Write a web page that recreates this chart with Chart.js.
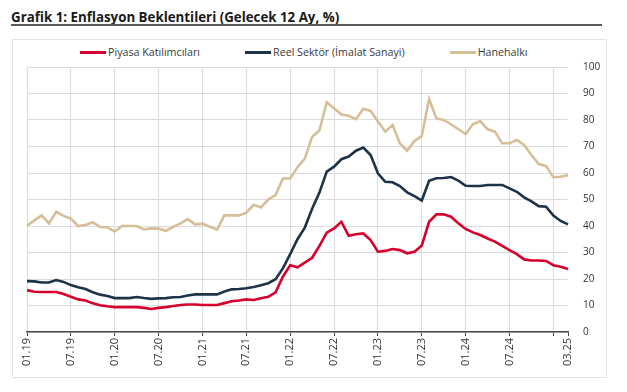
<!DOCTYPE html>
<html>
<head>
<meta charset="utf-8">
<script src="https://cdn.jsdelivr.net/npm/chart.js@4.4.1/dist/chart.umd.min.js"></script>
<style>
  body { margin: 0; background: #fff; width: 627px; height: 392px; position: relative; overflow: hidden; font-family: 'Open Sans', sans-serif; }
  #title { position: absolute; left: 11px; top: 8px; font-size: 14px; line-height: 18px; font-weight: 700; color: #1a1a1a; white-space: nowrap; transform-origin: left top; }
  #rule { position: absolute; left: 11px; top: 24px; width: 591px; height: 2px; background: #595959; }
  #box { position: absolute; left: 12px; top: 39px; width: 593px; height: 337px; border: 1px solid #e2e2e2; }
  #legend { position: absolute; left: 80px; top: 45px; display: flex; gap: 45px; font-size: 10.7px; line-height: 15px; color: #3a3a3a; }
  .item { display: flex; align-items: center; white-space: nowrap; }
  .swatch { width: 26px; height: 3px; margin-right: 2px; }
  #chart { position: absolute; left: 13px; top: 40px; }
</style>
</head>
<body>
<div id="title">Grafik 1: Enflasyon Beklentileri (Gelecek 12 Ay, %)</div>
<div id="rule"></div>
<div id="box"></div>
<div id="legend"></div>
<canvas id="chart" width="593" height="337"></canvas>
<script>
// aylar: 01.19 - 03.25
const firstYear = 2019, lastYear = 2025, lastMonth = 3;
const months = [];
for (let y = firstYear; y <= lastYear; y++) {
    for (let m = 1; m <= 12; m++) {
        if (y === lastYear && m > lastMonth) break;
        months.push(String(m).padStart(2, '0') + '.' + String(y).slice(2));
    }
}

const tickLabels = ['01.19', '07.19', '01.20', '07.20', '01.21', '07.21', '01.22', '07.22', '01.23', '07.23', '01.24', '07.24', '03.25'];
const gridMonths = ['01.19', '07.19', '01.20', '07.20', '01.21', '07.21', '01.22', '07.22', '01.23', '07.23', '01.24', '07.24', '01.25'];

const seriesNames = ['Piyasa Katılımcıları', 'Reel Sektör (İmalat Sanayi)', 'Hanehalkı'];

const piyasa = [
    15.8, 15.2, 15.1, 15.1, 15.1, 14.3, 13.3, 12.3, 11.9, 10.8, 10.1, 9.7,
    9.4, 9.4, 9.4, 9.4, 9.1, 8.7, 9.1, 9.4, 9.8, 10.2, 10.4, 10.4,
    10.2, 10.2, 10.2, 10.9, 11.6, 11.9, 12.3, 12.1, 12.7, 13.3, 15.0, 20.9,
    25.2, 24.4, 26.2, 28.0, 32.5, 37.5, 39.1, 41.6, 36.3, 36.9, 37.2, 34.7,
    30.3, 30.6, 31.3, 30.9, 29.7, 30.3, 32.6, 41.6, 44.4, 44.4, 43.5, 41.0,
    38.9, 37.6, 36.6, 35.3, 34.1, 32.5, 30.9, 29.4, 27.4, 27.0, 27.0, 26.8,
    25.2, 24.6, 23.8
];
const reelSektor = [
    19.2, 19.1, 18.7, 18.7, 19.6, 18.9, 17.7, 16.9, 16.2, 15.0, 14.1, 13.6,
    12.8, 12.8, 12.8, 13.2, 12.8, 12.5, 12.7, 12.8, 13.1, 13.2, 13.8, 14.2,
    14.2, 14.2, 14.2, 15.3, 16.1, 16.2, 16.5, 17.0, 17.6, 18.4, 19.9, 24.0,
    29.4, 35.0, 39.4, 46.5, 52.6, 60.5, 62.4, 65.2, 66.2, 68.4, 69.6, 66.8,
    59.9, 56.7, 56.5, 55.1, 52.7, 51.3, 49.6, 57.1, 58.0, 58.1, 58.5, 57.1,
    55.2, 55.1, 55.1, 55.5, 55.5, 55.5, 54.2, 52.9, 50.8, 49.3, 47.5, 47.3,
    43.9, 41.9, 40.6
];
const hanehalki = [
    40.1, 42.1, 44.0, 41.0, 45.4, 43.8, 42.8, 40.0, 40.4, 41.4, 39.6, 39.5,
    37.9, 40.0, 40.0, 40.0, 38.7, 39.1, 39.0, 38.2, 39.7, 41.0, 42.6, 40.6,
    40.9, 39.7, 38.6, 44.0, 44.0, 44.0, 45.0, 48.0, 47.0, 50.0, 51.7, 57.9,
    57.9, 62.2, 65.4, 73.7, 76.0, 86.7, 84.4, 82.1, 81.6, 80.3, 84.2, 83.4,
    79.4, 75.6, 78.1, 71.2, 68.4, 72.1, 74.0, 87.9, 80.6, 80.0, 78.4, 76.5,
    74.7, 78.4, 79.6, 76.5, 75.6, 71.2, 71.2, 72.5, 70.6, 66.8, 63.4, 62.6,
    58.4, 58.6, 59.2
];

const colors = ['#d5002c', '#1e3248', '#d5be98'];
const allSeries = [piyasa, reelSektor, hanehalki];

// başlığı referans genişliğine sığdır
const title = document.getElementById('title');
title.style.transform = 'scaleX(' + (328 / title.offsetWidth) + ')';

// lejant (html)
const legend = document.getElementById('legend');
seriesNames.forEach((name, i) => {
    const item = document.createElement('div');
    item.className = 'item';
    const sw = document.createElement('span');
    sw.className = 'swatch';
    sw.style.background = colors[i];
    const txt = document.createElement('span');
    txt.textContent = name;
    item.appendChild(sw);
    item.appendChild(txt);
    legend.appendChild(item);
});

const ctx = document.getElementById('chart').getContext('2d');
new Chart(ctx, {
    type: 'line',
    data: {
        labels: months,
        datasets: allSeries.map((d, i) => ({
            label: seriesNames[i],
            data: d,
            borderColor: colors[i],
            backgroundColor: colors[i],
            borderWidth: 2.6,
            pointRadius: 0,
            tension: 0,
            fill: false
        }))
    },
    options: {
        responsive: false,
        animation: false,
        devicePixelRatio: 1,
        layout: { padding: { left: 14, top: 27, right: 0, bottom: 0 } },
        plugins: { legend: { display: false }, tooltip: { enabled: false } },
        scales: {
            x: {
                offset: false,
                grid: {
                    color: c => gridMonths.includes(months[c.index]) ? '#dcdcdc' : 'rgba(0,0,0,0)',
                    tickColor: c => (gridMonths.includes(months[c.index]) || tickLabels.includes(months[c.index])) ? '#444' : 'rgba(0,0,0,0)',
                    lineWidth: 1,
                    tickLength: 4
                },
                border: { display: true, color: '#4a4a4a', width: 1.5 },
                ticks: {
                    autoSkip: false,
                    minRotation: 90,
                    maxRotation: 90,
                    padding: 2,
                    color: '#333',
                    font: { family: 'Open Sans', size: 11 },
                    callback: (v, i) => tickLabels.includes(months[i]) ? months[i] : ''
                },
                afterFit: s => { s.height = 45; }
            },
            y: {
                position: 'right',
                min: 0,
                max: 100,
                grid: { color: '#dcdcdc', lineWidth: 1, drawTicks: false },
                border: { display: false },
                ticks: {
                    stepSize: 10,
                    padding: 15,
                    color: '#333',
                    font: { family: 'Open Sans', size: 10 }
                },
                afterFit: s => { s.width = 38; }
            }
        }
    }
});
</script>
</body>
</html>
